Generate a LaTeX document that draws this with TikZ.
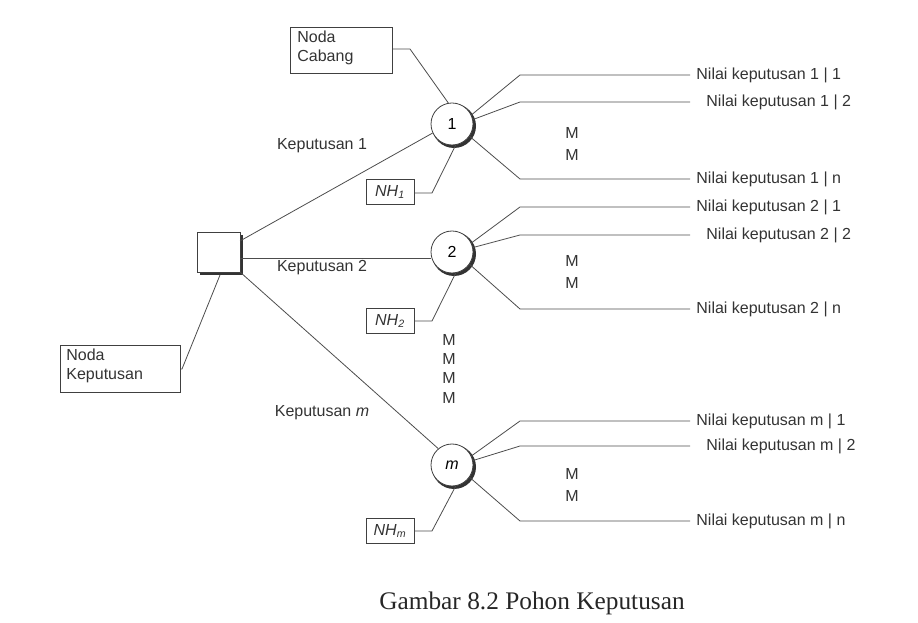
\documentclass[tikz,border=0pt]{standalone}
\usepackage{fontspec}
\setmainfont{Liberation Sans}
\newfontfamily\capfont{Liberation Serif}
\begin{document}
\begin{tikzpicture}[x=0.75pt,y=-0.75pt,line width=0.6pt,draw=black!75,
  txt/.style={font=\fontsize{12}{14}\selectfont,text=black!80,inner sep=0},
  box/.style={draw=black!75,rectangle,inner sep=0},
  chance/.style={circle,draw=black!75,minimum size=31.5pt,inner sep=0,font=\fontsize{12}{14}\selectfont},
  ln/.style={draw=black!70,line width=0.6pt}]
\useasboundingbox (0,0) rectangle (918,623);
% square decision node with shadow
\fill[black!80] (200,235) rectangle (243,275);
\node[box,fill=white,minimum width=32pt,minimum height=30pt,anchor=north west] (sq) at (197,232) {};
% chance nodes
\foreach \n/\y/\t in {c1/124/1,c2/252/2,cm/465/\textit{m}}{
  \fill[black!80] (454,\y+2) circle (22);
  \node[chance,fill=white] (\n) at (452,\y) {\t};
}
% boxes
\node[box,minimum width=76.5pt,minimum height=34.5pt,anchor=north west] (nc) at (290,27) {};
\node[txt,anchor=north west,align=left] (nct) at (297,31) {Noda\\Cabang};
\node[box,minimum width=90pt,minimum height=35pt,anchor=north west] (nk) at (60,345) {};
\node[txt,anchor=north west,align=left] (nkt) at (66,349) {Noda\\Keputusan};
\foreach \n/\y/\s in {h1/192/1,h2/321/2,hm/531/m}{
  \node[box,minimum width=36pt,minimum height=19pt] (\n) at (390,\y) {};
  \node[txt] (\n t) at (390,\y) {\itshape NH\textsubscript{\s}};
}
% connectors
\coordinate (a1) at (410,49); \draw[ln] (nc.east|-a1) -- (a1) -- (c1.100);
\coordinate (a2) at (432,193); \draw[ln] (h1.east|-a2) -- (a2) -- (c1.-80);
\coordinate (a3) at (432,321); \draw[ln] (h2.east|-a3) -- (a3) -- (c2.-80);
\coordinate (a4) at (432,531); \draw[ln] (hm.east|-a4) -- (a4) -- (cm.-80);
\coordinate (a5) at (182,369); \draw[ln] (nk.east|-a5) -- (a5) -- (220,275);
\draw[ln] (240,241) -- (c1.205);
\draw[ln] (240,258) -- (c2.west|-240,258);
\draw[ln] (240,272) -- (cm.130);
\node[txt] (k1) at (322,146) {Keputusan 1};
\node[txt] (k2) at (322,268) {Keputusan 2};
\node[txt] (km) at (322,413) {Keputusan \itshape m};
% outcomes
\foreach \c/\y/\ya/\yb/\yc/\k in {c1/124/75/102/179/1,c2/252/207/235/309/2,cm/465/421/446/521/m}{
  \coordinate (o\k a) at (690,\ya); \coordinate (o\k b) at (690,\yb); \coordinate (o\k c) at (690,\yc);
  \draw[ln] (\c.25) -- (520,\ya) -- (o\k a);
  \draw[ln] (\c.12) -- (520,\yb) -- (o\k b);
  \draw[ln] (\c.-35) -- (520,\yc) -- (o\k c);
  \node[txt,anchor=west] at (696,\ya) {Nilai keputusan \k\ | 1};
  \node[txt,anchor=west] at (706,\yb) {Nilai keputusan \k\ | 2};
  \node[txt,anchor=west] at (696,\yc) {Nilai keputusan \k\ | n};
  \node[txt] at (572,\y+9) {M};
  \node[txt] at (572,\y+31) {M};
}
\foreach \y in {340,359,378,398}{\node[txt] at (449,\y) {M};}
\node[font=\capfont\fontsize{19}{22}\selectfont,text=black!85] (cap) at (532,603) {Gambar 8.2 Pohon Keputusan};
\end{tikzpicture}
\end{document}
